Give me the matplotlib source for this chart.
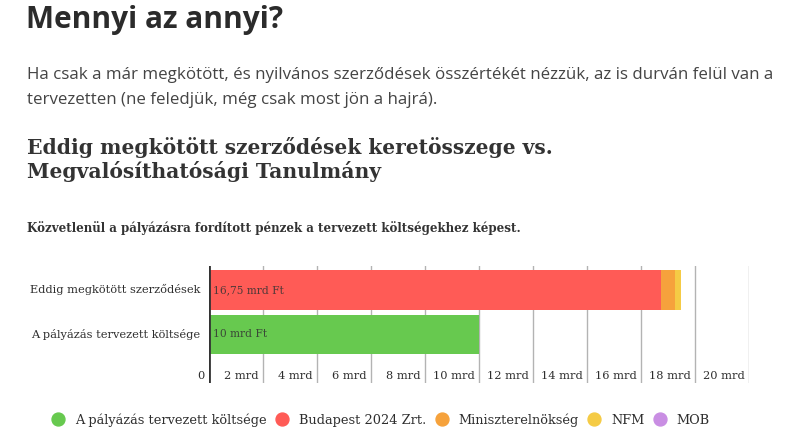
import matplotlib
matplotlib.use("Agg")
import matplotlib.pyplot as plt
from matplotlib.lines import Line2D
import numpy as np

# ---- data ----
categories = ["Eddig megkötött szerződések", "A pályázás tervezett költsége"]
series_names = ["A pályázás tervezett költsége", "Budapest 2024 Zrt.",
                "Miniszterelnökség", "NFM", "MOB"]
planned = [0.0, 10.0]
budapest2024 = [16.75, 0.0]
miniszterelnokseg = [0.50, 0.0]
nfm = [0.22, 0.0]
mob = [0.0, 0.0]
bar_labels = ["16,75 mrd Ft", "10 mrd Ft"]
tick_values = [0, 2, 4, 6, 8, 10, 12, 14, 16, 18, 20]
tick_labels = ["0", "2 mrd", "4 mrd", "6 mrd", "8 mrd", "10 mrd", "12 mrd",
               "14 mrd", "16 mrd", "18 mrd", "20 mrd"]

colors = ["#67c94f", "#ff5b56", "#f6a23c", "#f5cb45", "#c98ee3"]
series = [planned, budapest2024, miniszterelnokseg, nfm, mob]

W, H = 800, 442
fig = plt.figure(figsize=(W / 100, H / 100), dpi=100)
fig.patch.set_facecolor("white")

def fx(px):
    return px / W

def fy(py):
    return 1 - py / H

text_dark = "#2e2e2e"
serif = ["DejaVu Serif"]
sans = ["Open Sans", "DejaVu Sans"]

# headings
fig.text(fx(26), fy(20), "Mennyi az annyi?", family=sans,
         fontweight="bold", fontsize=21.5, color="#2b2b2b", va="center", ha="left")
fig.text(fx(27), fy(75),
         "Ha csak a már megkötött, és nyilvános szerződések összértékét nézzük, az is durván felül van a",
         family=sans, fontsize=12.2, color="#444444", va="center", ha="left")
fig.text(fx(27), fy(100),
         "tervezetten (ne feledjük, még csak most jön a hajrá).",
         family=sans, fontsize=12.2, color="#444444", va="center", ha="left")

fig.text(fx(27), fy(148), "Eddig megkötött szerződések keretösszege vs.",
         family=serif, fontweight="bold", fontsize=14.6, color="#333333", va="center", ha="left")
fig.text(fx(27), fy(172), "Megvalósíthatósági Tanulmány",
         family=serif, fontweight="bold", fontsize=14.6, color="#333333", va="center", ha="left")
fig.text(fx(27), fy(228),
         "Közvetlenül a pályázásra fordított pénzek a tervezett költségekhez képest.",
         family=serif, fontweight="bold", fontsize=8.6, color="#333333", va="center", ha="left")

# ---- chart axes ----
ax_left, ax_right = 209, 749
ax_top, ax_bottom = 266, 383
ax = fig.add_axes([fx(ax_left), fy(ax_bottom), fx(ax_right - ax_left),
                   (ax_bottom - ax_top) / H])

y = np.array([1.0, 0.0])  # first category on top
bar_h = 0.89
left = np.zeros(len(categories))
for vals, col in zip(series, colors):
    vals = np.array(vals)
    ax.barh(y, vals, left=left, height=bar_h, color=col, edgecolor="none", zorder=2)
    left = left + vals

ax.set_xlim(tick_values[0], tick_values[-1])
ax.set_ylim(-1.089, 1.533)

for t in tick_values[1:]:
    ax.axvline(t, color="#b3b3b3", linewidth=1, zorder=1)
ax.axvline(0, color="#333333", linewidth=2, zorder=3)

for s in ax.spines.values():
    s.set_visible(False)
ax.set_xticks([])
ax.set_yticks([])

for t, lbl in zip(tick_values, tick_labels):
    ax.annotate(lbl, xy=(t, 0), xycoords=("data", "axes fraction"),
                xytext=(-4, 2), textcoords="offset pixels", ha="right", va="bottom",
                family=serif, fontsize=8.2, color=text_dark, annotation_clip=False)

for yi, cat in zip(y, categories):
    ax.annotate(cat, xy=(0, yi), xycoords="data", xytext=(-9, 0),
                textcoords="offset pixels", ha="right", va="center",
                family=serif, fontsize=8.2, color=text_dark, annotation_clip=False)

for yi, lbl in zip(y, bar_labels):
    ax.annotate(lbl, xy=(0, yi), xycoords="data", xytext=(4, 0),
                textcoords="offset pixels", ha="left", va="center",
                family=serif, fontsize=7.7, color="#333333", alpha=0.85, zorder=4)

# legend
handles = [Line2D([0], [0], marker="o", linestyle="none", markersize=9.3,
                  markerfacecolor=c, markeredgecolor=c) for c in colors]
leg = fig.legend(handles, series_names, loc="center", ncol=5,
                 bbox_to_anchor=(fx(381), fy(420)), frameon=False,
                 handlelength=0.9, handletextpad=0.85, columnspacing=0.75,
                 prop={"family": serif, "size": 9.3})
for txt in leg.get_texts():
    txt.set_color(text_dark)

fig.savefig("out.png", dpi=100, facecolor="white")
